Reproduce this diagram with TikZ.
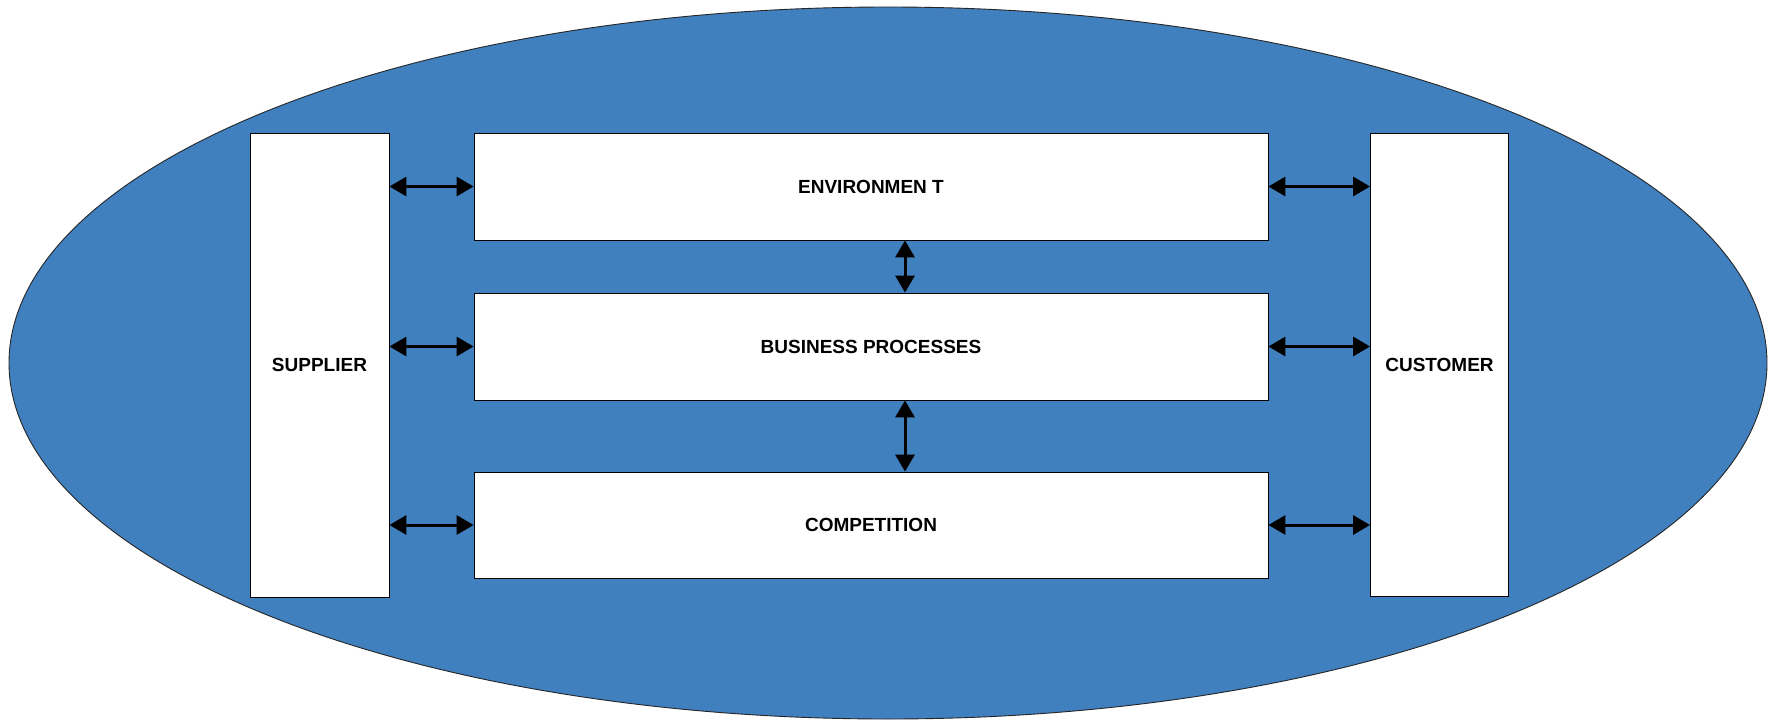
\documentclass[tikz,border=0pt]{standalone}
\usepackage{fontspec}
\setmainfont{Liberation Sans}
\usetikzlibrary{arrows.meta}
\definecolor{ovalblue}{RGB}{64,128,191}
\tikzset{
  box/.style={draw=black, line width=0.8pt, fill=white, inner sep=0pt,
    font=\bfseries\fontsize{19}{23}\selectfont, align=center},
  arr/.style={line width=3pt, {Triangle[length=17pt,width=19pt]}-{Triangle[length=17pt,width=19pt]}}
}
\begin{document}
\begin{tikzpicture}[x=1pt,y=-1pt]
\useasboundingbox (0,0) rectangle (1775,720);
\fill[white] (0,0) rectangle (1775,720);
\draw[fill=ovalblue, draw=black!85, line width=0.9pt] (888,363) ellipse [x radius=879pt, y radius=356pt];
\node[box, minimum width=139pt, minimum height=464pt] (sup) at (319.5,365) {SUPPLIER};
\node[box, minimum width=138pt, minimum height=463pt] (cus) at (1439.5,364.5) {CUSTOMER};
\node[box, minimum width=794pt, minimum height=107pt] (env) at (871,186.5) {ENVIRONMEN T};
\node[box, minimum width=794pt, minimum height=107pt] (bus) at (871,346.5) {BUSINESS PROCESSES};
\node[box, minimum width=794pt, minimum height=106pt] (com) at (871,525) {COMPETITION};
\draw[arr] (sup.east |- env.west) -- (env.west);
\draw[arr] (sup.east |- bus.west) -- (bus.west);
\draw[arr] (sup.east |- com.west) -- (com.west);
\draw[arr] (env.east) -- (cus.west |- env.east);
\draw[arr] (bus.east) -- (cus.west |- bus.east);
\draw[arr] (com.east) -- (cus.west |- com.east);
\draw[arr] ([xshift=34pt]env.south) -- ([xshift=34pt]bus.north);
\draw[arr] ([xshift=34pt]bus.south) -- ([xshift=34pt]com.north);
\end{tikzpicture}
\end{document}
